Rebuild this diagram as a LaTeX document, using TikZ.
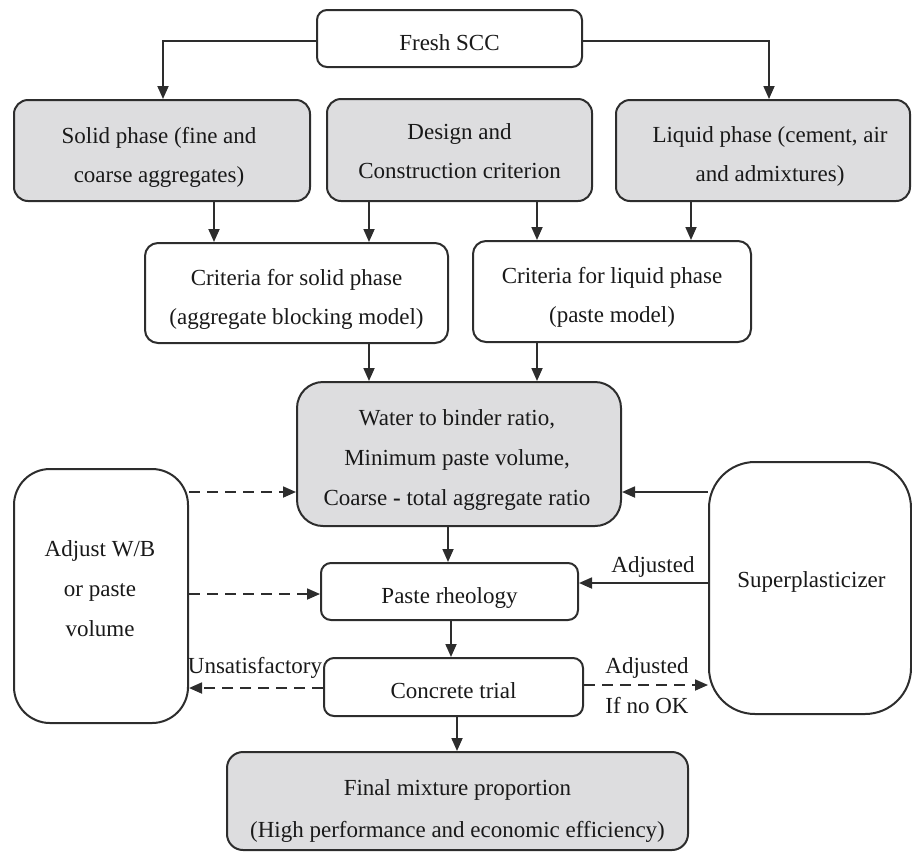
\documentclass[tikz,border=0pt]{standalone}
\usepackage{fontspec}
\setmainfont{Liberation Serif}
\usetikzlibrary{arrows.meta}
\definecolor{boxgray}{RGB}{221,221,223}
\definecolor{linec}{RGB}{45,45,45}
\definecolor{textc}{RGB}{25,25,25}
\begin{document}
\begin{tikzpicture}[x=1pt,y=-1pt,
  box/.style={draw=linec, line width=2pt, inner sep=0pt},
  graybox/.style={box, fill=boxgray},
  whitebox/.style={box, fill=white},
  txt/.style={align=center, inner sep=0pt, text=textc, font=\fontsize{23}{39}\selectfont},
  arr/.style={draw=linec, line width=1.8pt, -{Triangle[length=13pt,width=11pt]}},
  darr/.style={arr, dash pattern=on 11pt off 7pt},
  lbl/.style={text=textc, font=\fontsize{23}{39}\selectfont, inner sep=0pt, anchor=base}
]
\useasboundingbox (0,0) rectangle (912,852);

% boxes
\node[whitebox, rounded corners=10pt, minimum width=265pt, minimum height=57pt] (fresh) at (449.5,38.5) {};
\node[graybox, rounded corners=14pt, minimum width=296pt, minimum height=101pt] (solid) at (162,150.5) {};
\node[graybox, rounded corners=14pt, minimum width=265pt, minimum height=102pt] (design) at (459.5,150) {};
\node[graybox, rounded corners=14pt, minimum width=294pt, minimum height=101pt] (liquid) at (763,150.5) {};
\node[whitebox, rounded corners=13pt, minimum width=303pt, minimum height=100pt] (csolid) at (296.5,293) {};
\node[whitebox, rounded corners=13pt, minimum width=278pt, minimum height=101pt] (cliquid) at (612,291.5) {};
\node[graybox, rounded corners=26pt, minimum width=324pt, minimum height=144pt] (water) at (459,454) {};
\node[whitebox, rounded corners=36pt, minimum width=174pt, minimum height=254pt] (adjust) at (101,596) {};
\node[whitebox, rounded corners=46pt, minimum width=202pt, minimum height=252pt] (super) at (810,588) {};
\node[whitebox, rounded corners=10pt, minimum width=257pt, minimum height=57pt] (paste) at (449.5,591.5) {};
\node[whitebox, rounded corners=10pt, minimum width=259pt, minimum height=58pt] (concrete) at (453.5,687) {};
\node[graybox, rounded corners=16pt, minimum width=461pt, minimum height=98pt] (final) at (457.5,801) {};

% box texts (yshift negative = downward)
\node[txt] (freshT) at ([yshift=-4pt]fresh.center) {Fresh SCC};
\node[txt] (solidT) at ([xshift=-3pt,yshift=-6.5pt]solid.center) {Solid phase (fine and\\coarse aggregates)};
\node[txt] (designT) at ([yshift=-1.5pt]design.center) {Design and\\Construction criterion};
\node[txt] (liquidT) at ([xshift=7pt,yshift=-5.5pt]liquid.center) {Liquid phase (cement, air\\and admixtures)};
\node[txt] (csolidT) at ([yshift=-6pt]csolid.center) {Criteria for solid phase\\(aggregate blocking model)};
\node[txt] (cliquidT) at ([yshift=-5.5pt]cliquid.center) {Criteria for liquid phase\\(paste model)};
\node[txt, font=\fontsize{23}{40}\selectfont] (waterT) at ([xshift=-2pt,yshift=-5.5pt]water.center) {Water to binder ratio,\\Minimum paste volume,\\Coarse \textbf{-} total aggregate ratio};
\node[txt, font=\fontsize{23}{40}\selectfont] (adjustT) at ([xshift=-1pt,yshift=7pt]adjust.center) {Adjust W/B\\or paste\\volume};
\node[txt] (superT) at ([xshift=1.5pt,yshift=6.5pt]super.center) {Superplasticizer};
\node[txt] (pasteT) at ([yshift=-6pt]paste.center) {Paste rheology};
\node[txt] (concreteT) at ([yshift=-3.5pt]concrete.center) {Concrete trial};
\node[txt, font=\fontsize{23}{42}\selectfont] (finalT) at ([yshift=-9.5pt]final.center) {Final mixture proportion\\(High performance and economic efficiency)};

% helper coordinates
\coordinate (yf) at (0,41);
\coordinate (xs) at (163,0);
\coordinate (xl) at (769,0);
\coordinate (xa) at (214,0);
\coordinate (xb) at (369,0);
\coordinate (xc) at (537,0);
\coordinate (xd) at (691,0);
\coordinate (xe) at (448,0);
\coordinate (xf) at (451,0);
\coordinate (xg) at (457,0);
\coordinate (ya) at (0,492);
\coordinate (yb) at (0,594);
\coordinate (yc) at (0,583);
\coordinate (yd) at (0,688);
\coordinate (ye) at (0,685);

% connectors
\draw[arr] (fresh.west |- yf) -| (solid.north -| xs);
\draw[arr] (fresh.east |- yf) -| (liquid.north -| xl);
\draw[arr] (solid.south -| xa) -- (csolid.north -| xa);
\draw[arr] (design.south -| xb) -- (csolid.north -| xb);
\draw[arr] (design.south -| xc) -- (cliquid.north -| xc);
\draw[arr] (liquid.south -| xd) -- (cliquid.north -| xd);
\draw[arr] (csolid.south -| xb) -- (water.north -| xb);
\draw[arr] (cliquid.south -| xc) -- (water.north -| xc);
\draw[arr] (water.south -| xe) -- (paste.north -| xe);
\draw[arr] (paste.south -| xf) -- (concrete.north -| xf);
\draw[arr] (concrete.south -| xg) -- (final.north -| xg);

\draw[darr] (adjust.east |- ya) -- (water.west |- ya);
\draw[arr] (super.west |- ya) -- (water.east |- ya);
\draw[darr] (adjust.east |- yb) -- (paste.west |- yb);
\draw[arr] (super.west |- yc) -- (paste.east |- yc);
\draw[darr] (concrete.west |- yd) -- (adjust.east |- yd);
\draw[darr] (concrete.east |- ye) -- (super.west |- ye);

% labels
\node[lbl] (l1) at (653,572) {Adjusted};
\node[lbl] (l2) at (255,673) {Unsatisfactory};
\node[lbl] (l3) at (647,673) {Adjusted};
\node[lbl] (l4) at (647,713) {If no OK};
\end{tikzpicture}
\end{document}
